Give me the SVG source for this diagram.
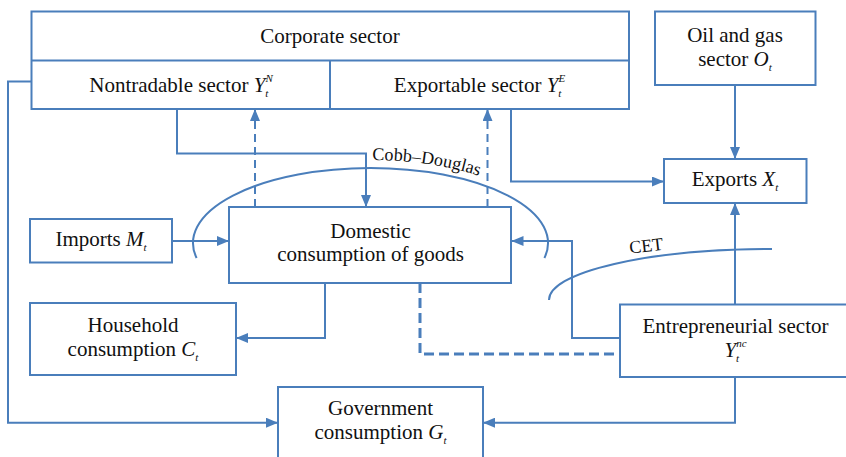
<svg xmlns="http://www.w3.org/2000/svg" width="846" height="457" viewBox="0 0 846 457" style="font-family:'Liberation Serif',serif">
<defs>
<marker id="arr" markerUnits="userSpaceOnUse" markerWidth="12" markerHeight="10" refX="12" refY="5" orient="auto">
<path d="M0,0 L12,5 L0,10 z" fill="#4a7ebb"/>
</marker>
<style>
.box{fill:#fff;stroke:#4a7ebb;stroke-width:2}
.ln{fill:none;stroke:#4a7ebb;stroke-width:2}
.dash{stroke-dasharray:8 5}
.dash2{stroke-width:3;stroke-dasharray:10 5}
text, tspan, textPath{font-family:'Liberation Serif',serif !important}
.it{font-style:italic}
.sm{font-size:11px;font-style:italic}
</style>
</defs>
<rect width="846" height="457" fill="#fff"/>

<g id="connectors">
<path class="ln" d="M177,109 V153.5 H366 V207" marker-end="url(#arr)"/>
<path class="ln dash" d="M255,207 V109" marker-end="url(#arr)"/>
<path class="ln dash" d="M487.5,207 V109" marker-end="url(#arr)"/>
<path class="ln" d="M511,109 V181.5 H664" marker-end="url(#arr)"/>
<path class="ln" d="M735,85 V159" marker-end="url(#arr)"/>
<path class="ln" d="M735,304 V203" marker-end="url(#arr)"/>
<path class="ln" d="M172,241 H229" marker-end="url(#arr)"/>
<path class="ln" d="M620,338 H572 V241 H511.5" marker-end="url(#arr)"/>
<path class="ln" d="M325,283 V338 H236" marker-end="url(#arr)"/>
<path class="ln dash2" d="M420,283 V354 H620"/>
<path class="ln" d="M31.5,81.5 H8 V422.7 H278" marker-end="url(#arr)"/>
<path class="ln" d="M735,377 V422.7 H483" marker-end="url(#arr)"/>
<path id="cd" class="ln" d="M196.6,258 A177.5,75 0 1,1 544.4,258"/>
<path class="ln" d="M549,300 A223,51 0 0,1 772,249"/>
<path id="cdtext" d="M370.5,160 A186,84 0 0,1 556.5,244" fill="none"/>
<text style="font-family:'Liberation Serif',serif" font-family="Liberation Serif" font-size="18" fill="#111"><textPath href="#cdtext" startOffset="2">Cobb–Douglas</textPath></text>
<text style="font-family:'Liberation Serif',serif" font-family="Liberation Serif" font-size="18" fill="#111" transform="translate(630,253.5) rotate(-6.5)">CET</text>
</g>

<g id="corporate">
<rect class="box" x="31.5" y="11.5" width="597.5" height="97.5"/>
<path class="ln" d="M31.5,60.5 H629 M330,60.5 V109"/>
<text style="font-family:'Liberation Serif',serif" font-family="Liberation Serif" font-size="21" fill="#111" text-anchor="middle" x="330" y="43">Corporate sector</text>
</g>
<g id="nontradable">
<text style="font-family:'Liberation Serif',serif" font-family="Liberation Serif" font-size="21" fill="#111" text-anchor="middle" x="181" y="92">Nontradable sector <tspan class="it">Y</tspan><tspan class="sm" dy="5">t</tspan><tspan class="sm" dx="-3" dy="-15">N</tspan></text>
</g>
<g id="exportable">
<text style="font-family:'Liberation Serif',serif" font-family="Liberation Serif" font-size="21" fill="#111" text-anchor="middle" x="479.5" y="92">Exportable sector <tspan class="it">Y</tspan><tspan class="sm" dy="5">t</tspan><tspan class="sm" dx="-3" dy="-15">E</tspan></text>
</g>
<g id="oilgas">
<rect class="box" x="655" y="11.5" width="160.5" height="73.5"/>
<text style="font-family:'Liberation Serif',serif" font-family="Liberation Serif" font-size="21" fill="#111" text-anchor="middle" x="735" y="42">Oil and gas</text>
<text style="font-family:'Liberation Serif',serif" font-family="Liberation Serif" font-size="21" fill="#111" text-anchor="middle" x="735" y="66">sector <tspan class="it">O</tspan><tspan class="sm" dy="5">t</tspan></text>
</g>
<g id="exports">
<rect class="box" x="664" y="159" width="142.5" height="44"/>
<text style="font-family:'Liberation Serif',serif" font-family="Liberation Serif" font-size="21" fill="#111" text-anchor="middle" x="735" y="186">Exports <tspan class="it">X</tspan><tspan class="sm" dy="5">t</tspan></text>
</g>
<g id="imports">
<rect class="box" x="30" y="219" width="142" height="43.5"/>
<text style="font-family:'Liberation Serif',serif" font-family="Liberation Serif" font-size="21" fill="#111" text-anchor="middle" x="101" y="246">Imports <tspan class="it">M</tspan><tspan class="sm" dy="5">t</tspan></text>
</g>
<g id="domestic">
<rect class="box" x="229" y="207" width="282" height="76"/>
<text style="font-family:'Liberation Serif',serif" font-family="Liberation Serif" font-size="21" fill="#111" text-anchor="middle" x="370.5" y="237.5">Domestic</text>
<text style="font-family:'Liberation Serif',serif" font-family="Liberation Serif" font-size="21" fill="#111" text-anchor="middle" x="370.5" y="261">consumption of goods</text>
</g>
<g id="household">
<rect class="box" x="30" y="303" width="206" height="72"/>
<text style="font-family:'Liberation Serif',serif" font-family="Liberation Serif" font-size="21" fill="#111" text-anchor="middle" x="133" y="332">Household</text>
<text style="font-family:'Liberation Serif',serif" font-family="Liberation Serif" font-size="21" fill="#111" text-anchor="middle" x="133" y="356">consumption <tspan class="it">C</tspan><tspan class="sm" dy="5">t</tspan></text>
</g>
<g id="entrepreneurial">
<rect class="box" x="620" y="304.5" width="232" height="72.5"/>
<text style="font-family:'Liberation Serif',serif" font-family="Liberation Serif" font-size="21" fill="#111" text-anchor="middle" x="735.5" y="333">Entrepreneurial sector</text>
<text style="font-family:'Liberation Serif',serif" font-family="Liberation Serif" font-size="21" fill="#111" text-anchor="middle" x="735.5" y="357"><tspan class="it">Y</tspan><tspan class="sm" dy="5">t</tspan><tspan class="sm" dx="-3" dy="-15">nc</tspan></text>
</g>
<g id="government">
<rect class="box" x="278" y="387" width="205" height="74"/>
<text style="font-family:'Liberation Serif',serif" font-family="Liberation Serif" font-size="21" fill="#111" text-anchor="middle" x="380.5" y="415">Government</text>
<text style="font-family:'Liberation Serif',serif" font-family="Liberation Serif" font-size="21" fill="#111" text-anchor="middle" x="380.5" y="438.5">consumption <tspan class="it">G</tspan><tspan class="sm" dy="5">t</tspan></text>
</g>
</svg>
